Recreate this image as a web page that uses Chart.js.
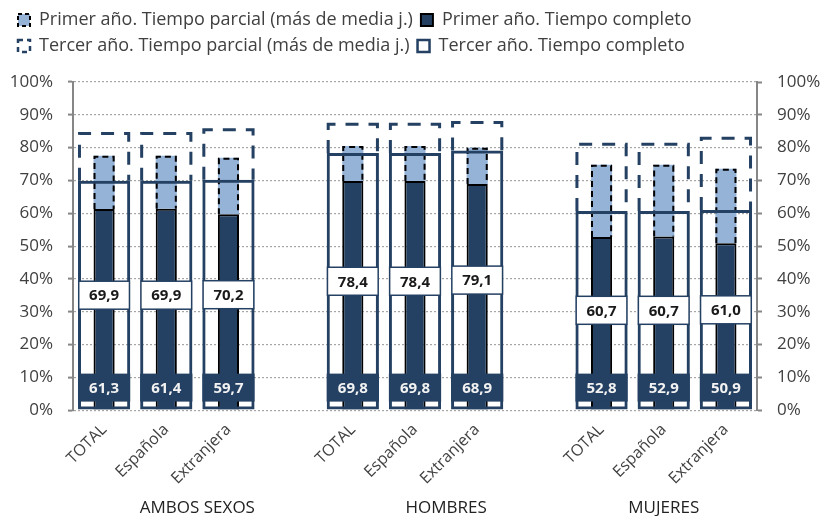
<!DOCTYPE html>
<html>
<head>
<meta charset="utf-8">
<script src="https://cdn.jsdelivr.net/npm/chart.js@4.4.1/dist/chart.umd.min.js"></script>
<style>
  html, body { margin: 0; padding: 0; background: #fff; }
  #wrap { width: 820px; height: 516px; position: relative; }
</style>
</head>
<body>
<div id="wrap"><canvas id="grafico"></canvas></div>
<script>
// categorias (con hueco entre grupos)
const categorias = ['TOTAL', 'Española', 'Extranjera', '', 'TOTAL', 'Española', 'Extranjera', '', 'TOTAL', 'Española', 'Extranjera'];
const grupos = ['AMBOS SEXOS', 'HOMBRES', 'MUJERES'];
const gruposRango = [[0, 3], [4, 7], [8, 10]];

const primerCompleto = [61.3, 61.4, 59.7, null, 69.8, 69.8, 68.9, null, 52.8, 52.9, 50.9];
const primerParcial  = [16.2, 16.1, 17.2, null, 10.7, 10.7, 11.1, null, 22.0, 21.9, 22.7];
const tercerCompleto = [69.9, 69.9, 70.2, null, 78.4, 78.4, 79.1, null, 60.7, 60.7, 61.0];
const tercerParcial  = [14.9, 14.9, 15.7, null, 9.2, 9.2, 9.0, null, 20.8, 20.8, 22.3];

const ticksY = ['0%', '10%', '20%', '30%', '40%', '50%', '60%', '70%', '80%', '90%', '100%'];

const azul = '#244062';
const celeste = '#95B3D7';
const fuente = '"Open Sans", Lato, sans-serif';
const gris = '#404040';

const fmt = v => v.toFixed(1).replace('.', ',');

// deja hueco entre la leyenda y el grafico
const margenLeyenda = {
    id: 'margenLeyenda',
    beforeLayout(chart) {
        const lg = chart.legend;
        if (!lg || lg._margen) return;
        const fit = lg.fit;
        lg.fit = function () {
            fit.call(this);
            this.height += 17;
        };
        lg._margen = true;
    }
};

const decorado = {
    id: 'decorado',
    afterDatasetDraw(chart, args) {
        const ds = chart.data.datasets[args.index];
        if (!ds.dashColor) return;
        const ctx = chart.ctx;
        const lw = ds.dashWidth;
        ctx.save();
        ctx.strokeStyle = ds.dashColor;
        ctx.lineWidth = lw;
        ctx.setLineDash(ds.dash);
        args.meta.data.forEach((bar, i) => {
            if (ds.data[i] == null) return;
            const p = bar.getProps(['x', 'y', 'base', 'width'], true);
            const l = p.x - p.width / 2 + lw / 2;
            const r = p.x + p.width / 2 - lw / 2;
            const t = Math.min(p.y, p.base) + lw / 2;
            const b = Math.max(p.y, p.base);
            ctx.beginPath();
            ctx.moveTo(l, b);
            ctx.lineTo(l, t);
            ctx.lineTo(r, t);
            ctx.lineTo(r, b);
            ctx.stroke();
        });
        ctx.restore();
    },
    afterDatasetsDraw(chart) {
        const ctx = chart.ctx;
        const metaPC = chart.getDatasetMeta(1);
        const metaTC = chart.getDatasetMeta(3);
        ctx.save();
        ctx.font = 'bold 15px ' + fuente;
        ctx.textAlign = 'center';
        ctx.textBaseline = 'middle';
        tercerCompleto.forEach((v, i) => {
            if (v == null) return;
            const t = metaTC.data[i].getProps(['x', 'y', 'base', 'width'], true);
            const pc = metaPC.data[i].getProps(['x', 'y', 'base', 'width'], true);
            const l = t.x - t.width / 2;
            // tercer año: caja blanca en el centro
            const cy = (t.y + t.base) / 2;
            ctx.fillStyle = '#fff';
            ctx.fillRect(l, cy - 14, t.width, 28);
            ctx.strokeStyle = azul;
            ctx.lineWidth = 1.5;
            ctx.strokeRect(l + 0.75, cy - 14, t.width - 1.5, 28);
            ctx.fillStyle = '#1a1a1a';
            ctx.fillText(fmt(v), t.x, cy + 1);
            // primer año: caja azul en la base
            const by = pc.base - 22;
            ctx.fillStyle = azul;
            ctx.fillRect(l, by - 14, t.width, 28);
            ctx.fillStyle = '#f2f2f2';
            ctx.fillText(fmt(primerCompleto[i]), t.x, by + 1);
        });
        ctx.restore();
    },
    afterDraw(chart) {
        const ctx = chart.ctx;
        const x = chart.scales.x;
        ctx.save();
        ctx.font = '17px ' + fuente;
        ctx.fillStyle = '#222';
        ctx.textAlign = 'center';
        ctx.textBaseline = 'middle';
        grupos.forEach((g, k) => {
            const [a, b] = gruposRango[k];
            const cx = (x.getPixelForValue(a) + x.getPixelForValue(b)) / 2;
            ctx.fillText(g, cx, chart.height - 8);
        });
        ctx.restore();
    }
};

const ctx = document.getElementById('grafico').getContext('2d');

new Chart(ctx, {
    type: 'bar',
    data: {
        labels: categorias,
        datasets: [
            {
                label: 'Primer año. Tiempo parcial (más de media j.)',
                data: primerParcial,
                stack: 'p',
                order: 3,
                backgroundColor: celeste,
                borderWidth: 0,
                barPercentage: 0.34,
                dashColor: '#000',
                dashWidth: 2,
                dash: [6, 4],
                legend: { fill: celeste, stroke: '#000', width: 2, dash: [4, 3] }
            },
            {
                label: 'Primer año. Tiempo completo',
                data: primerCompleto,
                stack: 'p',
                order: 2,
                backgroundColor: azul,
                borderColor: '#000',
                borderWidth: 2,
                barPercentage: 0.34,
                legend: { fill: azul, stroke: '#000', width: 2, dash: [] }
            },
            {
                label: 'Tercer año. Tiempo parcial (más de media j.)',
                data: tercerParcial,
                stack: 't',
                order: 1,
                backgroundColor: 'rgba(0,0,0,0)',
                borderWidth: 0,
                barPercentage: 0.84,
                dashColor: azul,
                dashWidth: 3,
                dash: [13, 10],
                legend: { fill: 'rgba(0,0,0,0)', stroke: azul, width: 2.5, dash: [5, 4] }
            },
            {
                label: 'Tercer año. Tiempo completo',
                data: tercerCompleto,
                stack: 't',
                order: 0,
                backgroundColor: 'rgba(0,0,0,0)',
                borderColor: azul,
                borderWidth: 3,
                borderSkipped: false,
                barPercentage: 0.84,
                legend: { fill: '#fff', stroke: azul, width: 2.5, dash: [] }
            }
        ]
    },
    options: {
        responsive: true,
        maintainAspectRatio: false,
        animation: false,
        datasets: {
            bar: { grouped: false, categoryPercentage: 1 }
        },
        layout: {
            padding: { left: 10, right: 0, top: 3, bottom: 26 }
        },
        plugins: {
            tooltip: { enabled: false },
            legend: {
                position: 'top',
                align: 'start',
                labels: {
                    color: gris,
                    font: { family: fuente, size: 18 },
                    boxWidth: 12,
                    boxHeight: 12,
                    padding: 8,
                    generateLabels: chart => chart.data.datasets.map((ds, i) => ({
                        text: ds.label,
                        fillStyle: ds.legend.fill,
                        strokeStyle: ds.legend.stroke,
                        lineWidth: ds.legend.width,
                        lineDash: ds.legend.dash,
                        fontColor: gris,
                        hidden: false,
                        datasetIndex: i
                    }))
                }
            }
        },
        scales: {
            x: {
                grid: { display: false },
                border: { display: false },
                ticks: {
                    color: gris,
                    font: { family: fuente, size: 16 },
                    minRotation: 45,
                    maxRotation: 45,
                    autoSkip: false,
                    padding: 2
                }
            },
            y: {
                stacked: true,
                min: 0,
                max: 100,
                afterFit: s => { s.width = 63; },
                border: { display: true, color: '#868686', width: 2, dash: [2, 2] },
                grid: {
                    color: '#a6a6a6',
                    lineWidth: 1.2,
                    tickColor: '#868686',
                    tickWidth: 2,
                    tickLength: 5,
                    tickBorderDash: []
                },
                ticks: {
                    stepSize: 10,
                    padding: 15,
                    color: gris,
                    font: { family: fuente, size: 17 },
                    callback: (v, i) => ticksY[i]
                }
            },
            y2: {
                position: 'right',
                min: 0,
                max: 100,
                afterFit: s => { s.width = 63; },
                border: { display: true, color: '#868686', width: 2 },
                grid: {
                    drawOnChartArea: false,
                    tickColor: '#868686',
                    tickWidth: 2,
                    tickLength: 5
                },
                ticks: {
                    stepSize: 10,
                    padding: 15,
                    color: gris,
                    font: { family: fuente, size: 17 },
                    callback: (v, i) => ticksY[i]
                }
            }
        }
    },
    plugins: [margenLeyenda, decorado]
});
</script>
</body>
</html>
